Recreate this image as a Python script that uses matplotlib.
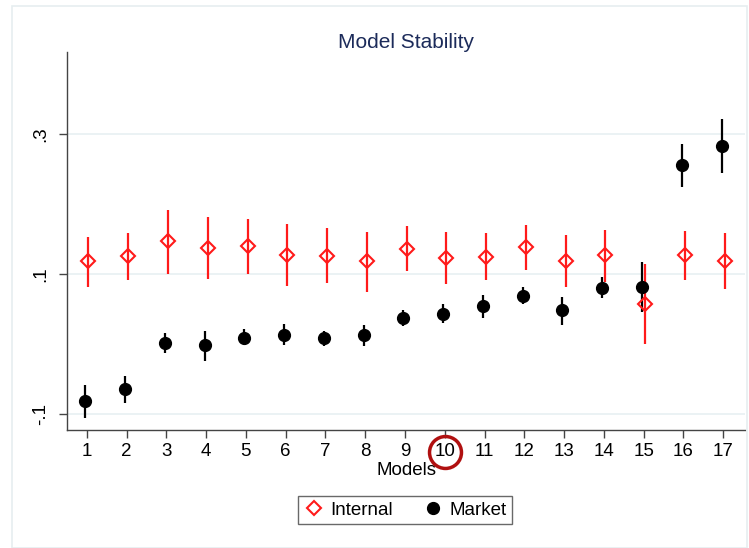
import matplotlib.pyplot as plt
from matplotlib.lines import Line2D
from matplotlib.patches import Rectangle
import numpy as np

plt.rcParams['font.family'] = ['Liberation Sans', 'DejaVu Sans']

# Data
models = np.arange(1, 18)
internal = [.119, .125, .147, .137, .140, .127, .126, .118, .136,
            .123, .124, .139, .118, .127, .057, .127, .119]
internal_lo = [.082, .091, .100, .093, .100, .083, .087, .074, .104,
               .086, .091, .106, .081, .089, .000, .092, .079]
internal_hi = [.153, .158, .192, .182, .179, .171, .165, .160, .168,
               .160, .158, .170, .155, .163, .114, .161, .158]
market = [-.081, -.065, .002, -.002, .009, .013, .008, .013, .037,
          .043, .054, .069, .048, .080, .081, .255, .283]
market_lo = [-.106, -.084, -.013, -.024, -.001, -.001, -.003, -.003, .026,
             .030, .037, .057, .027, .065, .046, .224, .244]
market_hi = [-.059, -.046, .016, .019, .021, .028, .019, .027, .048,
             .057, .070, .081, .067, .095, .117, .285, .322]

internal = np.array(internal)
market = np.array(market)

fig = plt.figure(figsize=(7.49, 5.48), dpi=100)
ax = fig.add_axes([67/749, 1 - 430/548, (745-67)/749, (430-52)/548])

# light frame around the whole graph region
fig.patches.append(Rectangle((12/749, 0.0), (749-14)/749, 1 - 6/548, transform=fig.transFigure,
                             fill=False, edgecolor='#e6eef0', linewidth=1.2))

# error bars first, then markers
ax.vlines(models - 0.04, market_lo, market_hi, color='black', linewidth=1.6, zorder=2)
ax.vlines(models + 0.04, internal_lo, internal_hi, color='#ff1a1a', linewidth=1.6, zorder=3)
ax.plot(models - 0.04, market, 'o', color='black', markersize=8.5, linestyle='none', zorder=4)
ax.plot(models + 0.04, internal, 'D', markerfacecolor='none', markeredgecolor='#ff1a1a',
        markeredgewidth=1.5, markersize=7, linestyle='none', zorder=5)

ax.set_xlim(0.5, 17.55)
ax.set_ylim(-0.123, 0.417)
ax.set_yticks([-0.1, 0.1, 0.3])
ax.set_yticklabels(['-.1', '.1', '.3'], rotation=90, va='center')
ax.set_xticks(models)
ax.grid(axis='y', color='#e8f0f2', linewidth=1.2, zorder=0)
ax.set_axisbelow(True)

for s in ['top', 'right']:
    ax.spines[s].set_visible(False)
for s in ['left', 'bottom']:
    ax.spines[s].set_color('#444444')
    ax.spines[s].set_linewidth(1.0)
ax.tick_params(length=6, width=1, color='#444444', labelsize=13.5, pad=3)
ax.tick_params(axis='y', pad=7)

ax.set_xlabel('Models', fontsize=13.5, labelpad=1.5)
ax.set_title('Model Stability', fontsize=15, color='#1c2b5a', pad=3)

# red circle highlighting model 10
ax.plot([10], [-0.057], 'o', markerfacecolor='none', markeredgecolor='#b01010',
        markeredgewidth=2.5, markersize=23, transform=ax.get_xaxis_transform(), clip_on=False)

handles = [Line2D([], [], marker='D', markerfacecolor='none', markeredgecolor='#ff1a1a',
                  markeredgewidth=1.5, markersize=7, linestyle='none'),
           Line2D([], [], marker='o', color='black', markersize=8.5, linestyle='none')]
leg = fig.legend(handles, ['Internal', 'Market'], loc='center', ncol=2,
                 bbox_to_anchor=(405/749, 1 - 510/548), fontsize=13.5, frameon=True,
                 fancybox=False, edgecolor='#444444', handletextpad=0.3, columnspacing=1.6,
                 handlelength=1.1, borderpad=0.3)
leg.get_frame().set_linewidth(1.0)

fig.savefig('out.png', dpi=100)
